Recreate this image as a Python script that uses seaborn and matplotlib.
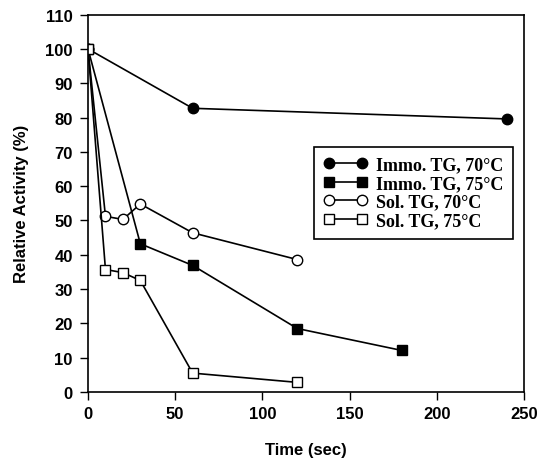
import matplotlib
matplotlib.use("Agg")
import matplotlib.pyplot as plt
import seaborn as sns
import pandas as pd

immo70_t = [0, 60, 240]
immo70_v = [100, 82.7, 79.6]
immo75_t = [0, 30, 60, 120, 180]
immo75_v = [100, 43.2, 36.9, 18.5, 12.1]
sol70_t = [0, 10, 20, 30, 60, 120]
sol70_v = [100, 51.2, 50.3, 54.8, 46.4, 38.6]
sol75_t = [0, 10, 20, 30, 60, 120]
sol75_v = [100, 35.7, 34.8, 32.5, 5.5, 2.8]
labels = ["Immo. TG, 70\u00b0C", "Immo. TG, 75\u00b0C", "Sol. TG, 70\u00b0C", "Sol. TG, 75\u00b0C"]

sns.set_theme(style="ticks")
plt.rcParams['font.family'] = ['Liberation Sans', 'DejaVu Sans']
plt.rcParams['text.color'] = 'black'
plt.rcParams['axes.labelcolor'] = 'black'
plt.rcParams['xtick.color'] = 'black'
plt.rcParams['ytick.color'] = 'black'

fig = plt.figure(figsize=(5.38, 4.6), dpi=100)
ax = fig.add_axes([0.1636, 0.1457, 0.8104, 0.8203])

series = [
    (immo70_t, immo70_v, "o", "black"),
    (immo75_t, immo75_v, "s", "black"),
    (sol70_t, sol70_v, "o", "white"),
    (sol75_t, sol75_v, "s", "white"),
]
for (t, v, m, fc), lab in zip(series, labels):
    df = pd.DataFrame({"t": t, "v": v})
    sns.lineplot(data=df, x="t", y="v", ax=ax, color="black", marker=m,
                 markerfacecolor=fc, markeredgecolor="black", markersize=7.5,
                 markeredgewidth=1, linewidth=1.2, label=lab, legend=False)

ax.set_xlim(0, 250)
ax.set_ylim(0, 110)
ax.set_xticks([0, 50, 100, 150, 200, 250])
ax.set_yticks(range(0, 111, 10))
ax.set_xlabel("Time (sec)", fontsize=12, fontweight="bold", labelpad=15)
ax.set_ylabel("Relative Activity (%)", fontsize=12, fontweight="bold", labelpad=12)
ax.tick_params(direction="out", length=6, width=1, labelsize=12, color="black")
ax.tick_params(axis="y", pad=5)
ax.tick_params(axis="x", pad=4)
for lbl in ax.get_xticklabels() + ax.get_yticklabels():
    lbl.set_fontweight("bold")
for s in ax.spines.values():
    s.set_color("black")
    s.set_linewidth(1.2)
ax.margins(0)

h, l = ax.get_legend_handles_labels()
leg = ax.legend(h, l, numpoints=2, loc="upper left", bbox_to_anchor=(0.518, 0.65),
                frameon=True, fancybox=False, edgecolor="black", framealpha=1,
                prop={"family": "Liberation Serif", "weight": "bold", "size": 13},
                handlelength=2.4, handletextpad=0.5, labelspacing=0.08, borderpad=0.55,
                borderaxespad=0)
leg.get_frame().set_linewidth(1.2)

fig.savefig("out.png", dpi=100)
